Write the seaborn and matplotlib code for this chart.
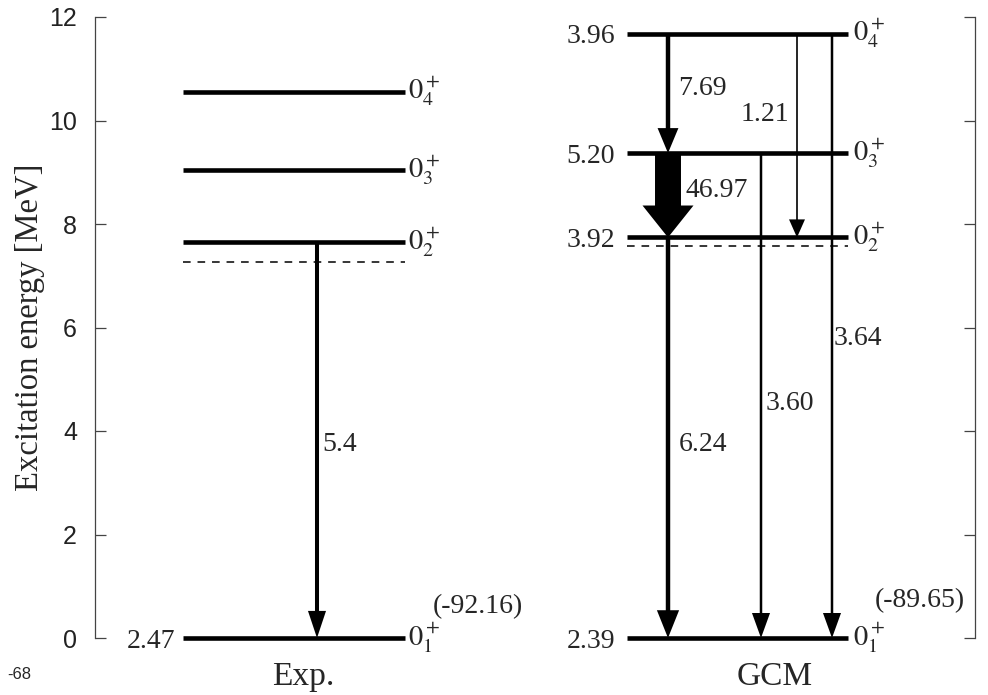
import pandas as pd
import seaborn as sns
import matplotlib.pyplot as plt
from matplotlib.transforms import blended_transform_factory

# level energies (MeV), index 0..3 = 0+_1 .. 0+_4
exp_energy = [0.0, 7.65, 9.04, 10.56]
gcm_energy = [0.0, 7.74, 9.37, 11.68]
exp_threshold = 7.27
gcm_threshold = 7.58

level_names = ["$0^+_1$", "$0^+_2$", "$0^+_3$", "$0^+_4$"]
exp_side = ["2.47", "", "", ""]
gcm_side = ["2.39", "3.92", "5.20", "3.96"]
binding = ["(-92.16)", "(-89.65)"]
schemes = ["Exp.", "GCM"]

# transitions: from level -> to level, value
exp_from = [1]
exp_to = [0]
exp_values = ["5.4"]
gcm_from = [3, 2, 1, 2, 3, 3]
gcm_to = [2, 1, 0, 0, 0, 1]
gcm_values = ["7.69", "46.97", "6.24", "3.60", "3.64", "1.21"]

# layout (x in axis units, 1 unit = 100 px)
exp_span = (0.88, 3.10)
gcm_span = (5.32, 7.53)
exp_arrow_x = [2.22]
gcm_arrow_x = [5.73, 5.73, 5.73, 6.66, 7.37, 7.02]
# (tail width, head width, head length) in points
exp_arrow_style = [(2.9, 13, 19.5)]
gcm_arrow_style = [(3.2, 15, 18), (18.7, 36.7, 23), (3.2, 16, 20),
                   (1.8, 13, 18), (1.8, 13, 18), (1.2, 11.5, 13)]
exp_value_pos = [(2.27, 3.79)]
gcm_value_pos = [(5.83, 10.67), (5.90, 8.70), (5.84, 3.79),
                 (6.71, 4.58), (7.39, 5.84), (6.46, 10.18)]


def level_frame():
    rows = []
    for name, energies, span in [("exp", exp_energy, exp_span), ("gcm", gcm_energy, gcm_span)]:
        for i, e in enumerate(energies):
            for x in span:
                rows.append({"level": f"{name}{i}", "x": x, "E": e})
    return pd.DataFrame(rows)


def threshold_frame():
    rows = []
    for name, e, span in [("exp", exp_threshold, exp_span), ("gcm", gcm_threshold, gcm_span)]:
        for x in span:
            rows.append({"level": name, "x": x, "E": e})
    return pd.DataFrame(rows)


def draw_arrow(ax, x, y0, y1, style):
    tw, hw, hl = style
    ax.annotate("", xy=(x, y1), xytext=(x, y0),
                arrowprops=dict(arrowstyle=f"simple,head_length={hl},head_width={hw},tail_width={tw}",
                                mutation_scale=1, color="black", lw=0, shrinkA=0, shrinkB=0))


def main():
    sns.set_theme(style="ticks")
    plt.rcParams["font.family"] = ["Liberation Serif", "DejaVu Serif"]
    plt.rcParams["mathtext.fontset"] = "stix"

    fig = plt.figure(figsize=(9.88, 6.95), dpi=100)
    ax = fig.add_axes([95 / 988, 57 / 695, 880 / 988, 621 / 695])

    levels = level_frame()
    sns.lineplot(data=levels, x="x", y="E", units="level", estimator=None, sort=False,
                 color="black", lw=3.3, legend=False, ax=ax, solid_capstyle="butt", clip_on=False)
    thr = threshold_frame()
    sns.lineplot(data=thr, x="x", y="E", units="level", estimator=None, sort=False,
                 color="black", lw=1.1, legend=False, ax=ax, dashes=False)
    for line in ax.lines[len(ax.lines) - 2:]:
        line.set_dashes((5, 4.5))

    # transitions
    for i in range(len(exp_from)):
        draw_arrow(ax, exp_arrow_x[i], exp_energy[exp_from[i]], exp_energy[exp_to[i]], exp_arrow_style[i])
        ax.text(*exp_value_pos[i], exp_values[i], fontsize=20, ha="left", va="center_baseline")
    for i in range(len(gcm_from)):
        draw_arrow(ax, gcm_arrow_x[i], gcm_energy[gcm_from[i]], gcm_energy[gcm_to[i]], gcm_arrow_style[i])
        ax.text(*gcm_value_pos[i], gcm_values[i], fontsize=20, ha="left", va="center_baseline")

    # level names and side numbers
    for i in range(4):
        ax.text(exp_span[1] + 0.03, exp_energy[i], level_names[i], fontsize=20.5, ha="left", va="center")
        ax.text(gcm_span[1] + 0.05, gcm_energy[i], level_names[i], fontsize=20.5, ha="left", va="center")
        if exp_side[i]:
            ax.text(exp_span[0] - 0.08, exp_energy[i], exp_side[i], fontsize=20, ha="right", va="center_baseline")
        if gcm_side[i]:
            ax.text(gcm_span[0] - 0.12, gcm_energy[i], gcm_side[i], fontsize=20, ha="right", va="center_baseline")

    ax.text(3.38, 0.60, binding[0], fontsize=20, ha="left", va="center")
    ax.text(7.80, 0.715, binding[1], fontsize=20, ha="left", va="center")

    trans = blended_transform_factory(ax.transData, ax.transAxes)
    ax.text(2.08, -0.0757, schemes[0], fontsize=24, ha="center", va="baseline", transform=trans)
    ax.text(6.80, -0.0757, schemes[1], fontsize=24, ha="center", va="baseline", transform=trans)

    fig.text(7 / 988, 16 / 695, "-68", fontsize=12, family="Liberation Sans", ha="left", va="baseline")

    ax.set_xlim(0, 8.8)
    ax.set_ylim(0, 12)
    ax.set_xticks([])
    ax.set_xlabel("")
    ax.set_yticks(range(0, 13, 2))
    ax.tick_params(axis="y", direction="in", length=8, width=0.9, color="#444444",
                   right=True, labelright=False, pad=13, labelsize=18)
    for lab in ax.get_yticklabels():
        lab.set_family("Liberation Sans")
        lab.set_color("#222222")
    for side in ["top", "bottom"]:
        ax.spines[side].set_visible(False)
    for side in ["left", "right"]:
        ax.spines[side].set_color("#444444")
        ax.spines[side].set_linewidth(0.9)

    ax.set_ylabel("Excitation energy [MeV]", fontsize=23.5)
    ax.yaxis.set_label_coords(-0.057, 0.5)

    fig.savefig("out.png", dpi=100)


if __name__ == "__main__":
    main()
